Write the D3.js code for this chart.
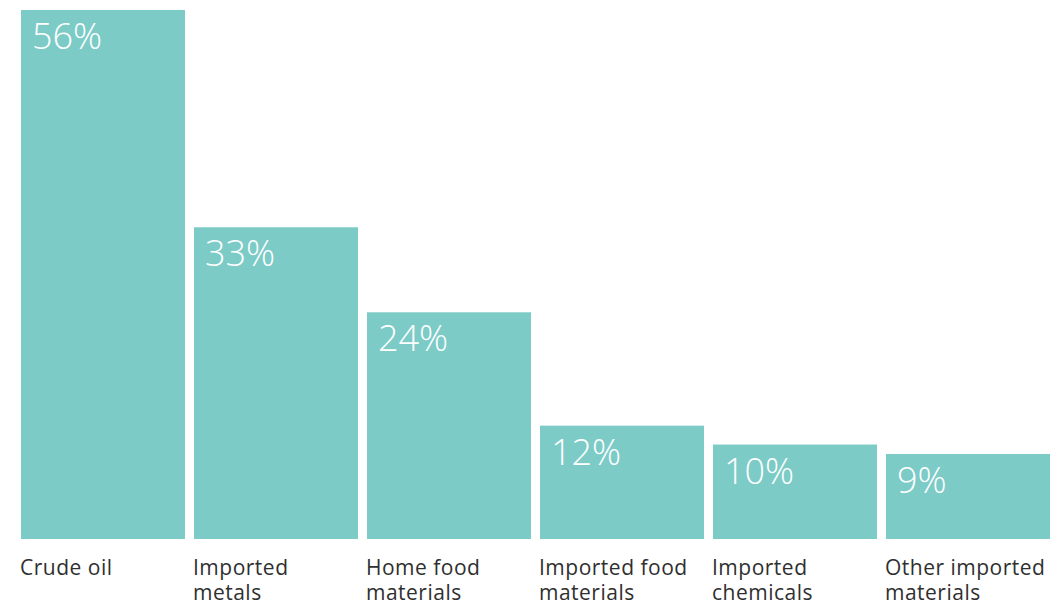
<!DOCTYPE html>
<html>
<head>
<meta charset="utf-8">
<script src="https://cdn.jsdelivr.net/npm/d3@7"></script>
<style>
  html, body { margin: 0; padding: 0; background: #ffffff; }
  svg { display: block; }
</style>
</head>
<body>
<svg id="chart" width="1064" height="604"></svg>
<script>
// Share of material sources, by category
const categories = [
  ["Crude oil"],
  ["Imported", "metals"],
  ["Home food", "materials"],
  ["Imported food", "materials"],
  ["Imported", "chemicals"],
  ["Other imported", "materials"]
];
const values = [56, 33, 24, 12, 10, 9];

const svg = d3.select("#chart");
const margin = { left: 21, right: 14, top: 10, bottom: 539 };

const x = d3.scaleBand()
  .domain(d3.range(values.length))
  .range([margin.left, 1064 - margin.right])
  .paddingInner(0.052)
  .paddingOuter(0);

const y = d3.scaleLinear()
  .domain([0, 56])
  .range([margin.bottom, margin.top]);

const barColor = "#7ccbc7";

const g = svg.append("g");

g.selectAll("rect.bar")
  .data(values)
  .join("rect")
  .attr("class", "bar")
  .attr("x", (d, i) => x(i))
  .attr("y", d => y(d))
  .attr("width", x.bandwidth())
  .attr("height", d => y(0) - y(d))
  .attr("fill", barColor);

// value labels inside the top of each bar
g.selectAll("text.val")
  .data(values)
  .join("text")
  .attr("class", "val")
  .attr("x", (d, i) => x(i) + 11)
  .attr("y", d => y(d) + 39)
  .attr("fill", "#ffffff")
  .style("font-family", "'Open Sans', 'Noto Sans', sans-serif")
  .style("font-weight", 300)
  .style("font-size", "36px")
  .text(d => d + "%");

// category labels under the bars
const cat = g.selectAll("text.cat")
  .data(categories)
  .join("text")
  .attr("class", "cat")
  .attr("x", (d, i) => x(i) - 1)
  .attr("y", 575)
  .attr("fill", "#2f2f2f")
  .style("font-family", "'Open Sans', 'Noto Sans', sans-serif")
  .style("font-size", "21px")
  .style("letter-spacing", "0.5px");

cat.selectAll("tspan")
  .data(d => d)
  .join("tspan")
  .attr("x", function () { return d3.select(this.parentNode).attr("x"); })
  .attr("dy", (d, i) => i === 0 ? 0 : 25)
  .text(d => d);
</script>
</body>
</html>
